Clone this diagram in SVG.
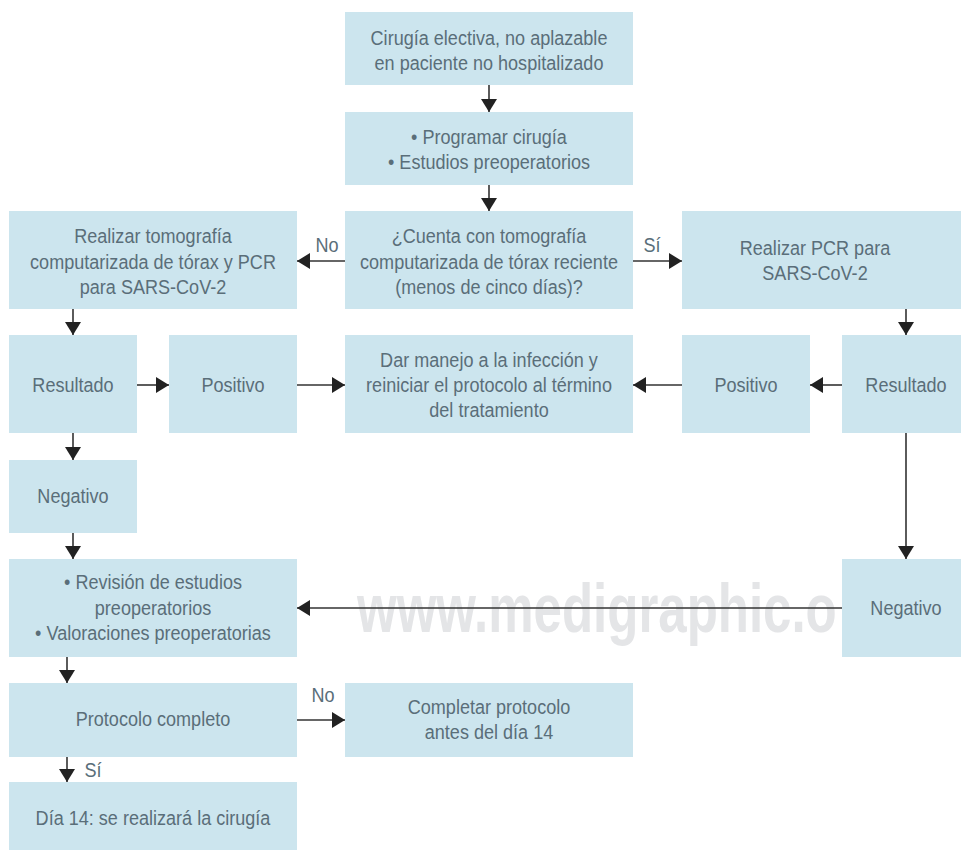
<svg xmlns="http://www.w3.org/2000/svg" width="961" height="850" viewBox="0 0 961 850">
<style>
.box{fill:#cce5ee}
.t{font-family:"Liberation Sans",Arial,sans-serif;font-size:21px;fill:#5a6e79;text-anchor:middle}
.lbl{font-family:"Liberation Sans",Arial,sans-serif;font-size:21px;fill:#5a6e79;text-anchor:middle}
.wm{font-family:"Liberation Sans",Arial,sans-serif;font-size:68px;font-weight:bold;fill:#e4e5e7}
.c{stroke:#333;stroke-width:1.6;fill:none;marker-end:url(#ah)}
</style>
<defs>
<marker id="ah" markerUnits="userSpaceOnUse" markerWidth="14" markerHeight="16" refX="13" refY="8" orient="auto">
<path d="M0,0 L13,8 L0,16 z" fill="#222"/>
</marker>
</defs>
<rect width="961" height="850" fill="#fff"/>
<g id="watermark"><text class="wm" transform="translate(357 632) scale(0.75 1)" x="0" y="0">www.medigraphic.o</text></g>

<g id="n1"><rect class="box" x="345" y="12" width="288" height="73"/>
<text class="t" transform="translate(489 0) scale(0.86 1)"><tspan x="0" y="45">Cirugía electiva, no aplazable</tspan><tspan x="0" y="70">en paciente no hospitalizado</tspan></text></g>

<g id="n2"><rect class="box" x="345" y="112" width="288" height="73"/>
<text class="t" transform="translate(489 0) scale(0.86 1)"><tspan x="0" y="144">• Programar cirugía</tspan><tspan x="0" y="169">• Estudios preoperatorios</tspan></text></g>

<g id="n3"><rect class="box" x="345" y="211" width="288" height="98"/>
<text class="t" transform="translate(489 0) scale(0.86 1)"><tspan x="0" y="243">¿Cuenta con tomografía</tspan><tspan x="0" y="269">computarizada de tórax reciente</tspan><tspan x="0" y="294">(menos de cinco días)?</tspan></text></g>

<g id="n4"><rect class="box" x="9" y="211" width="288" height="98"/>
<text class="t" transform="translate(153 0) scale(0.86 1)"><tspan x="0" y="243">Realizar tomografía</tspan><tspan x="0" y="269">computarizada de tórax y PCR</tspan><tspan x="0" y="294">para SARS-CoV-2</tspan></text></g>

<g id="n5"><rect class="box" x="682" y="211" width="279" height="98"/>
<text class="t" transform="translate(815 0) scale(0.86 1)"><tspan x="0" y="255">Realizar PCR para</tspan><tspan x="0" y="280">SARS-CoV-2</tspan></text></g>

<g id="n6"><rect class="box" x="9" y="335" width="128" height="98"/>
<text class="t" transform="translate(73 0) scale(0.86 1)"><tspan x="0" y="392">Resultado</tspan></text></g>

<g id="n7"><rect class="box" x="169" y="335" width="128" height="98"/>
<text class="t" transform="translate(233 0) scale(0.86 1)"><tspan x="0" y="392">Positivo</tspan></text></g>

<g id="n8"><rect class="box" x="345" y="335" width="288" height="98"/>
<text class="t" transform="translate(489 0) scale(0.86 1)"><tspan x="0" y="367">Dar manejo a la infección y</tspan><tspan x="0" y="392">reiniciar el protocolo al término</tspan><tspan x="0" y="417">del tratamiento</tspan></text></g>

<g id="n9"><rect class="box" x="682" y="335" width="128" height="98"/>
<text class="t" transform="translate(746 0) scale(0.86 1)"><tspan x="0" y="392">Positivo</tspan></text></g>

<g id="n10"><rect class="box" x="842" y="335" width="119" height="98"/>
<text class="t" transform="translate(906 0) scale(0.86 1)"><tspan x="0" y="392">Resultado</tspan></text></g>

<g id="n11"><rect class="box" x="9" y="460" width="128" height="73"/>
<text class="t" transform="translate(73 0) scale(0.86 1)"><tspan x="0" y="503">Negativo</tspan></text></g>

<g id="n12"><rect class="box" x="9" y="559" width="288" height="98"/>
<text class="t" transform="translate(153 0) scale(0.86 1)"><tspan x="0" y="589">• Revisión de estudios</tspan><tspan x="0" y="615">preoperatorios</tspan><tspan x="0" y="640">• Valoraciones preoperatorias</tspan></text></g>

<g id="n13"><rect class="box" x="842" y="559" width="119" height="98"/>
<text class="t" transform="translate(906 0) scale(0.86 1)"><tspan x="0" y="615">Negativo</tspan></text></g>

<g id="n14"><rect class="box" x="9" y="683" width="288" height="74"/>
<text class="t" transform="translate(153 0) scale(0.86 1)"><tspan x="0" y="726">Protocolo completo</tspan></text></g>

<g id="n15"><rect class="box" x="345" y="683" width="288" height="74"/>
<text class="t" transform="translate(489 0) scale(0.86 1)"><tspan x="0" y="714">Completar protocolo</tspan><tspan x="0" y="739">antes del día 14</tspan></text></g>

<g id="n16"><rect class="box" x="9" y="782" width="288" height="68"/>
<text class="t" transform="translate(153 0) scale(0.86 1)"><tspan x="0" y="825">Día 14: se realizará la cirugía</tspan></text></g>

<g id="connectors">
<line class="c" x1="489" y1="85" x2="489" y2="112"/>
<line class="c" x1="489" y1="185" x2="489" y2="211"/>
<line class="c" x1="345" y1="261" x2="297" y2="261"/>
<line class="c" x1="633" y1="261" x2="682" y2="261"/>
<line class="c" x1="73" y1="309" x2="73" y2="335"/>
<line class="c" x1="906" y1="309" x2="906" y2="335"/>
<line class="c" x1="137" y1="385" x2="169" y2="385"/>
<line class="c" x1="297" y1="385" x2="345" y2="385"/>
<line class="c" x1="842" y1="385" x2="810" y2="385"/>
<line class="c" x1="682" y1="385" x2="633" y2="385"/>
<line class="c" x1="73" y1="433" x2="73" y2="460"/>
<line class="c" x1="73" y1="533" x2="73" y2="559"/>
<line class="c" x1="906" y1="433" x2="906" y2="559"/>
<line class="c" x1="842" y1="608" x2="297" y2="608"/>
<line class="c" x1="67" y1="657" x2="67" y2="683"/>
<line class="c" x1="297" y1="720" x2="345" y2="720"/>
<line class="c" x1="67" y1="757" x2="67" y2="782"/>
<text class="lbl" transform="translate(327 0) scale(0.86 1)" x="0" y="252">No</text>
<text class="lbl" transform="translate(652 0) scale(0.86 1)" x="0" y="252">Sí</text>
<text class="lbl" transform="translate(323 0) scale(0.86 1)" x="0" y="702">No</text>
<text class="lbl" transform="translate(93 0) scale(0.86 1)" x="0" y="777">Sí</text>
</g>
</svg>
